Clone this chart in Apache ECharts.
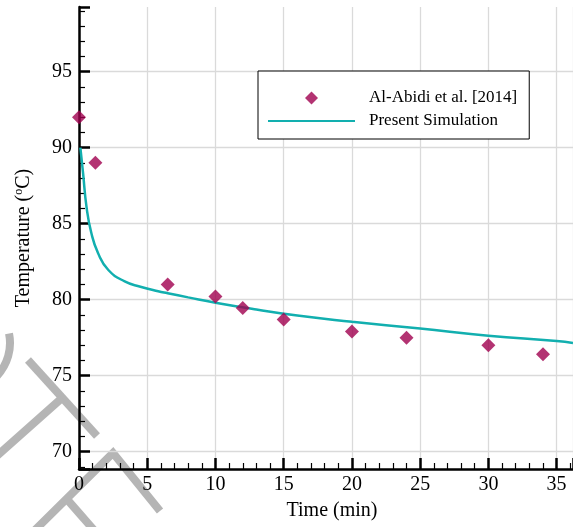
<!DOCTYPE html>
<html>
<head>
<meta charset="utf-8">
<title>Temperature</title>
<script src="https://cdn.jsdelivr.net/npm/echarts@6/dist/echarts.min.js"></script>
<style>
html, body { margin: 0; padding: 0; background: #fff; }
#chart { width: 573px; height: 527px; }
</style>
</head>
<body>
<div id="chart"></div>
<script>
// experimental points (Al-Abidi et al. 2014)
var expTime = [0, 1.2, 6.5, 10, 12, 15, 20, 24, 30, 34];
var expTemp = [92, 89, 81, 80.2, 79.45, 78.7, 77.9, 77.5, 77, 76.4];

// simulation curve
var simTime = [0.1, 0.3, 0.55, 0.9, 1.4, 2.15, 3.35, 4.5, 5.8, 6.5, 8, 10, 13, 16, 20, 25, 30, 35, 36.2];
var simTemp = [90.0, 88.3, 86.1, 84.4, 83.05, 81.95, 81.2, 80.85, 80.55, 80.42, 80.15, 79.8, 79.35, 78.95, 78.55, 78.1, 77.63, 77.28, 77.15];

var seriesNames = ['Al-Abidi et al. [2014]', 'Present Simulation'];

function pairs(xs, ys) {
  var out = [];
  for (var i = 0; i < xs.length; i++) out.push([xs[i], ys[i]]);
  return out;
}

var font = 'Liberation Serif';
var gridGrey = '#dadada';
var wmStyle = { stroke: '#b5b5b5', lineWidth: 8, fill: null };

var myChart = echarts.init(document.getElementById('chart'));
var option = {
  backgroundColor: '#fff',
  animation: false,
  textStyle: { fontFamily: font, color: '#000' },
  grid: { left: 79, right: 0, top: 7, bottom: 58, containLabel: false },
  // faint watermark strokes in the lower-left corner
  graphic: [
    { type: 'polyline', z: -10, shape: { points: [[28, 360], [97, 436]] }, style: wmStyle },
    { type: 'polyline', z: -10, shape: { points: [[62, 398], [-10, 462]] }, style: wmStyle },
    { type: 'polyline', z: -10, shape: { points: [[160, 511], [113, 453], [30, 535]] }, style: wmStyle },
    { type: 'polyline', z: -10, shape: { points: [[65, 497], [100, 537]] }, style: wmStyle },
    { type: 'arc', z: -10, shape: { cx: -38, cy: 343, r: 48, startAngle: -0.2, endAngle: 0.75 }, style: wmStyle }
  ],
  legend: {
    orient: 'vertical',
    left: 258,
    top: 71,
    symbolKeepAspect: true,
    data: [
      { name: seriesNames[0], icon: 'path://M43.5,0 L50,6.5 L43.5,13 L37,6.5 Z' },
      { name: seriesNames[1], icon: 'path://M0,0 L87,0 L87,2.2 L0,2.2 Z' }
    ],
    padding: [17, 12, 8, 10],
    itemWidth: 87,
    itemHeight: 13,
    itemGap: 3,
    backgroundColor: '#fff',
    borderColor: '#000',
    borderWidth: 1,
    borderRadius: 0,
    textStyle: { fontFamily: font, fontSize: 17, color: '#000', lineHeight: 20, padding: [0, 0, 0, 9] }
  },
  xAxis: {
    type: 'value',
    min: 0,
    max: 36.2,
    interval: 5,
    name: 'Time (min)',
    nameLocation: 'middle',
    nameGap: 32,
    nameTextStyle: { fontFamily: font, fontSize: 20, color: '#000', padding: [0, 0, 0, 12] },
    axisLine: { lineStyle: { color: '#000', width: 2.5 } },
    axisTick: { inside: true, length: 11, lineStyle: { color: '#000', width: 2.5 } },
    minorTick: { show: true, splitNumber: 5, length: 6, lineStyle: { color: '#000', width: 1.2 } },
    axisLabel: { fontFamily: font, fontSize: 20, color: '#000', margin: 6, showMaxLabel: false },
    splitLine: { show: true, lineStyle: { color: gridGrey, width: 1.3 } }
  },
  yAxis: {
    type: 'value',
    min: 68.86,
    max: 99.25,
    splitNumber: 6,
    minInterval: 5,
    maxInterval: 5,
    name: 'Temperature ({sup|o}C)',
    nameLocation: 'middle',
    nameGap: 45,
    nameTextStyle: {
      fontFamily: font, fontSize: 20, color: '#000',
      rich: { sup: { fontFamily: font, fontSize: 12, color: '#000', padding: [0, 0, 9, 0] } }
    },
    axisLine: { onZero: false, lineStyle: { color: '#000', width: 2.5 } },
    axisTick: { inside: true, length: 11, lineStyle: { color: '#000', width: 2.5 } },
    minorTick: { show: true, splitNumber: 5, length: 6, lineStyle: { color: '#000', width: 1.2 } },
    axisLabel: { fontFamily: font, fontSize: 20, color: '#000', margin: 7, showMinLabel: false, showMaxLabel: false },
    splitLine: {
      show: true,
      lineStyle: {
        color: ['transparent', gridGrey, gridGrey, gridGrey, gridGrey, gridGrey, gridGrey, 'transparent'],
        width: 1.3
      }
    }
  },
  series: [
    {
      name: seriesNames[0],
      type: 'scatter',
      symbol: 'diamond',
      symbolSize: 14,
      itemStyle: { color: '#a0004f' },
      data: pairs(expTime, expTemp),
      z: 5
    },
    {
      name: seriesNames[1],
      type: 'line',
      symbol: 'none',
      smooth: 0.5,
      lineStyle: { color: '#12afaf', width: 2.5 },
      itemStyle: { color: '#12afaf' },
      data: pairs(simTime, simTemp),
      z: 4
    }
  ]
};
myChart.setOption(option);
</script>
</body>
</html>
